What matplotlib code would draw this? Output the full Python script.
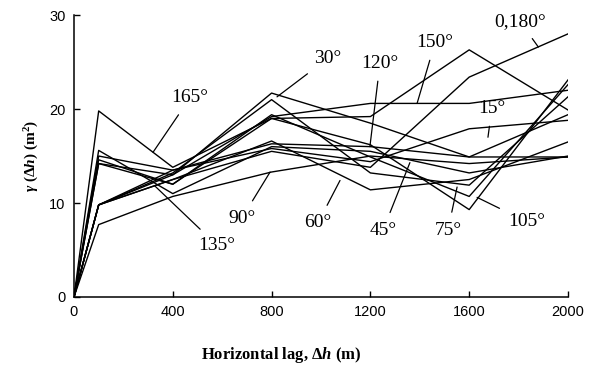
"""Directional semivariograms: gamma(dh) against horizontal lag."""

import matplotlib
matplotlib.use("Agg")
import matplotlib.pyplot as plt

plt.rcParams["mathtext.fontset"] = "custom"
plt.rcParams["mathtext.rm"] = "Liberation Serif:bold"
plt.rcParams["mathtext.it"] = "Liberation Serif:italic:bold"

# lag distances (m)
lags = [0, 100, 400, 800, 1200, 1600, 2000]

# semivariance per direction (m^2)
g_0_180 = [0, 9.8, 12.5, 15.5, 13.8, 23.4, 28.0]
g_15 = [0, 9.8, 13.5, 15.8, 14.4, 17.9, 18.8]
g_30 = [0, 9.8, 13.0, 21.7, 18.5, 14.9, 19.4]
g_45 = [0, 9.8, 13.2, 21.0, 13.2, 11.9, 21.3]
g_60 = [0, 9.8, 12.5, 16.6, 11.4, 12.5, 16.5]
g_75 = [0, 14.2, 12.0, 19.0, 16.2, 9.3, 23.1]
g_90 = [0, 7.7, 10.7, 13.3, 15.0, 14.2, 14.9]
g_105 = [0, 14.6, 12.0, 19.4, 14.9, 10.7, 22.6]
g_120 = [0, 15.0, 13.5, 16.3, 16.0, 14.9, 14.9]
g_135 = [0, 15.6, 11.0, 16.0, 15.5, 13.2, 15.0]
g_150 = [0, 14.2, 13.0, 19.2, 20.6, 20.6, 22.0]
g_165 = [0, 19.8, 13.8, 19.0, 19.2, 26.3, 19.9]

series = [g_0_180, g_15, g_30, g_45, g_60, g_75, g_90,
          g_105, g_120, g_135, g_150, g_165]

# direction labels: text, text position, leader end
label_names = ["165°", "30°", "120°", "150°", "0,180°", "15°",
               "90°", "135°", "60°", "45°", "75°", "105°"]
label_xy = [(470, 21.2), (1028, 25.4), (1239, 24.9), (1462, 27.1),
            (1806, 29.3), (1692, 20.1), (680, 8.4), (579, 5.5),
            (988, 7.9), (1251, 7.1), (1514, 7.1), (1834, 8.0)]
leader_xy = [(320, 15.4), (822, 21.3), (1198, 16.0), (1389, 20.6),
             (1880, 26.6), (1676, 17.0), (794, 13.3), (328, 11.8),
             (1077, 12.4), (1360, 14.3), (1551, 11.7), (1632, 10.6)]

fig = plt.figure(figsize=(5.9, 3.68), dpi=100)
ax = fig.add_axes([0.1254, 0.193, 0.8373, 0.766])

for s in series:
    ax.plot(lags, s, color="black", linewidth=1.0)

for name, txt, end in zip(label_names, label_xy, leader_xy):
    ax.annotate(name, xy=end, xytext=txt, ha="center", va="center",
                fontsize=14, family="Liberation Serif",
                arrowprops=dict(arrowstyle="-", color="black", lw=0.9,
                                shrinkA=5, shrinkB=0))

ax.set_xlim(0, 2000)
ax.set_ylim(0, 30)
ax.set_xticks([0, 400, 800, 1200, 1600, 2000])
ax.set_yticks([0, 10, 20, 30])
ax.spines["top"].set_visible(False)
ax.spines["right"].set_visible(False)
for sp in ("left", "bottom"):
    ax.spines[sp].set_linewidth(1.1)
ax.tick_params(direction="in", length=4, width=1.0, labelsize=10.5, pad=6)
for lab in ax.get_xticklabels() + ax.get_yticklabels():
    lab.set_family("Liberation Sans")

ax.set_xlabel(r"Horizontal lag, $\mathit{\Delta h}$ (m)", fontsize=12,
              family="Liberation Serif", fontweight="bold", labelpad=10)
ax.xaxis.set_label_coords(0.42, -0.17)
ax.set_ylabel(r"$\gamma$ ($\mathit{\Delta h}$) (m$^2$)", fontsize=11,
              family="Liberation Serif", fontweight="bold", labelpad=6)

fig.savefig("out.png", dpi=100)
